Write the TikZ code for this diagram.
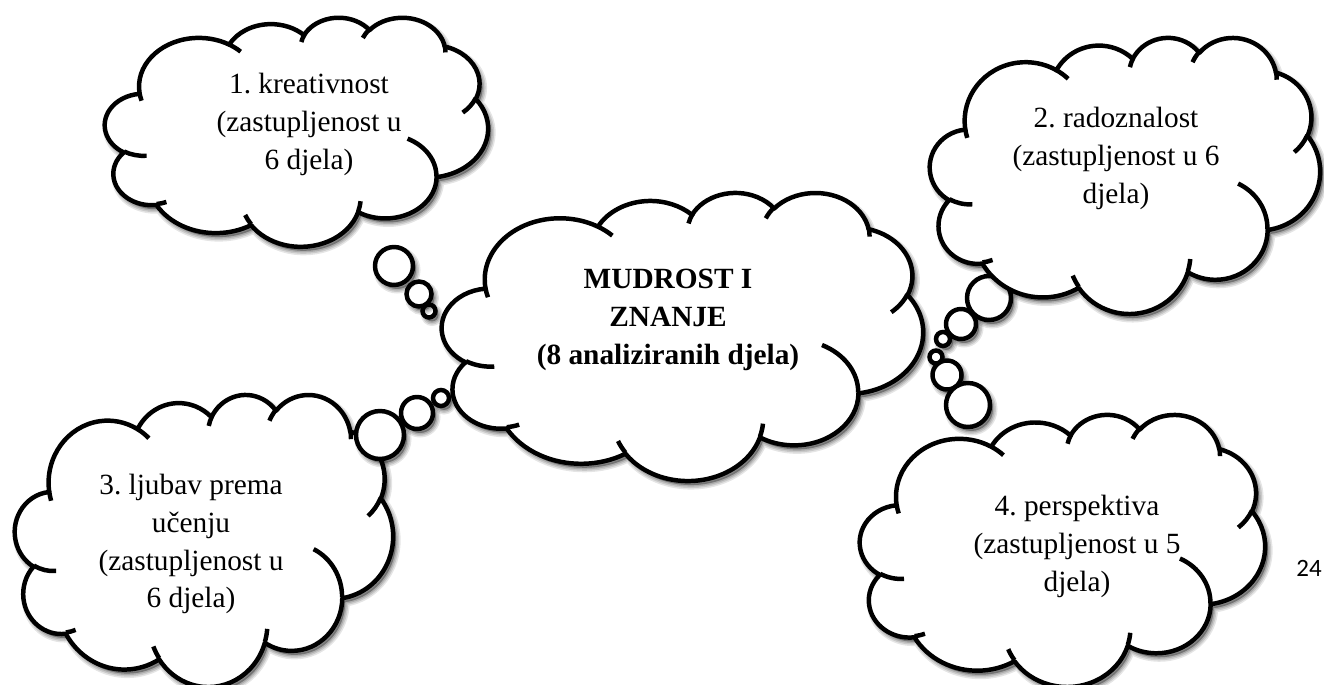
\documentclass[tikz,border=0pt]{standalone}
\usepackage{fontspec}
\setmainfont{Liberation Serif}
\newfontfamily\pagefont{Carlito}
\frenchspacing
\newcommand\pxu{0.569pt}
\tikzset{
  ooarc/.code args={#1/#2/#3/#4}{%
    \pgfmathsetmacro\arcsa{atan2((#1)*sin(#3),(#2)*cos(#3))}%
    \pgfmathsetmacro\arcsa{\arcsa+360*round(((#3)-(\arcsa))/360)}%
    \pgfmathsetmacro\arcea{atan2((#1)*sin((#3)+(#4)),(#2)*cos((#3)+(#4)))}%
    \pgfmathsetmacro\arcea{\arcea+360*round(((#3)+(#4)-(\arcea))/360)}%
    \edef\arcdo{\noexpand\pgfkeysalso{/tikz/x radius=#1,/tikz/y radius=#2,
      /tikz/start angle=\arcsa,/tikz/end angle=\arcea}}\arcdo},
  cloudline/.style={draw=black, fill=white, line width=2.55pt, line join=round},
  hookline/.style={draw=black, line width=2.55pt},
  bubble/.style={circle, draw=black, fill=white, line width=2.55pt, inner sep=0pt},
  shadowlayer/.style={fill=black, draw=black, opacity=#1},
  cloudtext/.style={align=center, inner sep=0pt, font=\fontsize{16.7pt}{21.6pt}\selectfont},
  titletext/.style={cloudtext, font=\fontsize{16.7pt}{21.6pt}\selectfont\bfseries},
}
\newcommand\cloudoutline{(3.900,14.370)
  arc[ooarc=6.753/9.190/-190.4875/123.7805]
  arc[ooarc=5.333/7.267/-144.1024/89.9452]
  arc[ooarc=4.365/5.945/-145.8079/99.7230]
  arc[ooarc=4.857/6.595/-130.9861/117.2417]
  arc[ooarc=5.333/7.273/-78.7089/109.0269]
  arc[ooarc=6.775/9.220/-46.2673/130.2690]
  arc[ooarc=5.785/7.867/0.6250/114.0333]
  arc[ooarc=6.752/9.215/22.4516/115.1726]
  arc[ooarc=7.720/10.543/66.2426/75.7110]
  arc[ooarc=4.360/5.918/-274.9421/146.7356]
  arc[ooarc=4.345/5.945/-246.8285/152.5189] -- cycle}
\newcommand\cloudhooks{(4.693,26.177) arc[ooarc=4.345/5.945/86.7420/26.4295]
  (6.928,34.899) arc[ooarc=4.360/5.918/73.6105/11.4475]
  (16.478,39.090) arc[ooarc=6.752/9.215/137.6242/14.0811]
  (28.827,34.751) arc[ooarc=6.752/9.215/6.4533/15.9984]
  (34.129,22.954) arc[ooarc=5.785/7.867/-70.2924/70.9174]
  (41.798,15.354) arc[ooarc=5.333/7.273/30.3180/27.7515]
  (38.324,5.426) arc[ooarc=4.857/6.595/-13.7443/14.8502]
  (29.078,3.952) arc[ooarc=4.857/6.595/-149.1815/18.1959]
  (22.141,4.720) arc[ooarc=4.365/5.945/-163.4943/17.6954]
  (14.000,5.192) arc[ooarc=6.753/9.190/-66.7070/12.3194]
  (4.127,15.789) arc[ooarc=6.753/9.190/157.6544/11.8582]}
% cloud: left, top, width, height (px)
\newcommand\thoughtcloud[4]{%
  \foreach \lw/\op in {9/0.10,6/0.12,3/0.15}{%
    \begin{scope}[shift={(#1+3,#2+4)}, xscale=#3/43.2, yscale=#4/43.2]
      \path[shadowlayer=\op, line width=\lw*\pxu] \cloudoutline;
    \end{scope}}
  \begin{scope}[shift={(#1,#2)}, xscale=#3/43.2, yscale=#4/43.2]
    \path[cloudline] \cloudoutline;
    \path[hookline] \cloudhooks;
  \end{scope}}
% bubble: name, x, y, diameter (px)
\newcommand\thoughtbubble[4]{%
  \foreach \lw/\op in {9/0.10,6/0.12,3/0.15}{%
    \path[shadowlayer=\op, line width=\lw*\pxu] (#2+3,#3+4) circle[radius=#4/2];}
  \node[bubble, minimum size=#4*\pxu] (#1) at (#2,#3) {};}

\begin{document}
\begin{tikzpicture}[x=0.02cm, y=-0.02cm]
\useasboundingbox (0,0) rectangle (1324,685);
\clip (0,0) rectangle (1324,685);
% centre
\thoughtcloud{442}{192}{481}{288}
\node[titletext] (tc) at (668,320) {MUDROST I\\ZNANJE\\(8 analiziranih djela)};
% 1
\thoughtbubble{b1c}{429}{311}{13}
\thoughtbubble{b1b}{419}{294}{25}
\thoughtbubble{b1a}{394}{266}{38}
\thoughtcloud{105}{17}{383}{229}
\node[cloudtext] (t1) at (309,124) {1. kreativnost\\(zastupljenost u\\6 djela)};
% 3
\thoughtcloud{15}{394}{378}{292}
\thoughtbubble{b3c}{441}{398}{16}
\thoughtbubble{b3b}{417}{413}{32}
\thoughtbubble{b3a}{380}{435}{48}
\node[cloudtext] (t3) at (191,544) {3. ljubav prema\\učenju\\(zastupljenost u\\6 djela)};
% 2
\thoughtbubble{b2c}{943}{339}{14}
\thoughtbubble{b2b}{961}{324}{30}
\thoughtbubble{b2a}{989}{298}{44}
\thoughtcloud{930}{37}{390}{276}
\node[cloudtext] (t2) at (1116,158) {2. radoznalost\\(zastupljenost u 6\\djela)};
% 4
\thoughtbubble{b4c}{936}{357}{13}
\thoughtbubble{b4b}{947}{375}{29}
\thoughtbubble{b4a}{968}{405}{44}
\thoughtcloud{860}{414}{405}{272}
\node[cloudtext] (t4) at (1077,546) {4. perspektiva\\(zastupljenost u 5\\djela)};
\node[anchor=base east, inner sep=0pt, font=\pagefont\fontsize{14.2pt}{17pt}\selectfont] (pg) at (1322,576) {24};
\end{tikzpicture}
\end{document}
